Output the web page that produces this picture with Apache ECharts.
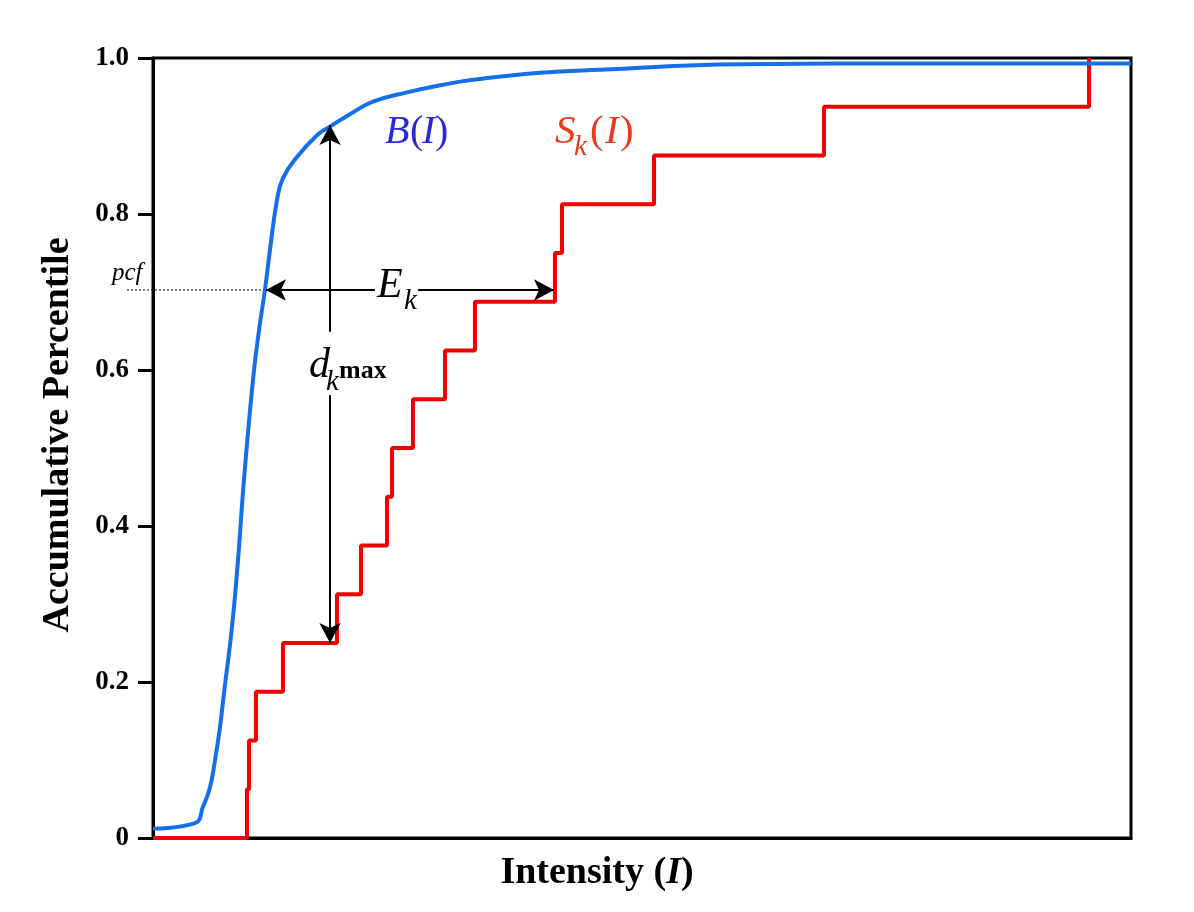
<!DOCTYPE html>
<html>
<head>
<meta charset="utf-8">
<script src="https://cdn.jsdelivr.net/npm/echarts@6/dist/echarts.min.js"></script>
<style>
  html, body { margin: 0; padding: 0; background: #fff; }
  #chart { width: 1194px; height: 912px; }
</style>
</head>
<body>
<div id="chart"></div>
<script>
// background distribution B(I) (intensity in arbitrary 0..1000 units)
const blueX = [0, 43, 51.1, 58.3, 63.4, 68.5, 72.6, 80.8, 86.9, 93.0, 102.2, 108.4, 114.5, 119.6, 126.8, 132.9, 147.2, 167.7, 181.0, 201.4, 224.9, 259.7, 293.5, 327.2, 395.7, 457, 600, 800, 1000]
const blueY = [0.012, 0.019, 0.040, 0.065, 0.100, 0.142, 0.186, 0.271, 0.356, 0.459, 0.587, 0.651, 0.703, 0.754, 0.818, 0.846, 0.873, 0.901, 0.912, 0.928, 0.944, 0.956, 0.965, 0.972, 0.981, 0.985, 0.992, 0.993, 0.993]
// sample distribution S_k(I): jump positions and the level after each jump
const stepX = [0, 96.1, 98.2, 105.3, 132.9, 188.1, 212.7, 239.3, 244.4, 265.8, 298.6, 329.2, 411.0, 418.2, 512.3, 686.1, 957.1]
const stepY = [0, 0.0625, 0.125, 0.1875, 0.25, 0.3125, 0.375, 0.4375, 0.5, 0.5625, 0.625, 0.6875, 0.75, 0.8125, 0.875, 0.9375, 1.0]

// annotation positions
const pcf = 0.7026
const dmaxX = 181
const ekLeft = 115.5
const ekRight = 410

const serif = '"Liberation Serif", "DejaVu Serif", serif'
const chart = echarts.init(document.getElementById('chart'))

const arrowSeg = (a, b) => [
    { coord: a, symbol: 'none' },
    { coord: b, symbol: 'arrow', symbolSize: [16, 20] }
]

const option = {
    animation: false,
    backgroundColor: '#fff',
    grid: {
        left: 153, right: 63, top: 58, bottom: 74,
        show: true,
        borderColor: '#000',
        borderWidth: 3
    },
    xAxis: {
        type: 'value',
        min: 0,
        max: 1000,
        name: '{b|Intensity (}{bi|I}{b|)}',
        nameLocation: 'middle',
        nameGap: 16,
        nameTextStyle: {
            padding: [0, 90, 0, 0],
            rich: {
                b: { fontFamily: serif, fontWeight: 'bold', fontSize: 38, color: '#000' },
                bi: { fontFamily: serif, fontWeight: 'bold', fontStyle: 'italic', fontSize: 38, color: '#000' }
            }
        },
        axisLine: { lineStyle: { color: '#000', width: 3 } },
        axisTick: { show: false },
        axisLabel: { show: false },
        splitLine: { show: false }
    },
    yAxis: {
        type: 'value',
        min: 0,
        max: 1,
        interval: 0.2,
        name: 'Accumulative Percentile',
        nameLocation: 'middle',
        nameGap: 76,
        nameTextStyle: {
            fontFamily: serif, fontWeight: 'bold', fontSize: 38, color: '#000',
            padding: [0, 0, 0, 26]
        },
        axisLine: { show: true, lineStyle: { color: '#000', width: 3 } },
        axisTick: { show: true, inside: false, length: 15, lineStyle: { color: '#000', width: 3 } },
        axisLabel: {
            margin: 24,
            fontFamily: serif,
            fontWeight: 'bold',
            fontSize: 27,
            color: '#000',
            formatter: v => v === 0 ? '0' : v.toFixed(1)
        },
        splitLine: { show: false }
    },
    series: [
        {
            name: 'S',
            type: 'line',
            step: 'end',
            showSymbol: false,
            z: 3,
            lineStyle: { color: '#f20000', width: 4 },
            data: stepX.map((x, i) => [x, stepY[i]])
        },
        {
            name: 'B',
            type: 'line',
            smooth: 0.45,
            showSymbol: false,
            z: 4,
            lineStyle: { color: '#1470ea', width: 4 },
            data: blueX.map((x, i) => [x, blueY[i]]),
            markLine: {
                silent: true,
                label: { show: false },
                lineStyle: { color: '#000', width: 2, type: 'solid' },
                data: [
                    arrowSeg([dmaxX, 0.649], [dmaxX, 0.914]),
                    arrowSeg([dmaxX, 0.568], [dmaxX, 0.25]),
                    arrowSeg([227, pcf], [ekLeft, pcf]),
                    arrowSeg([271, pcf], [ekRight, pcf])
                ]
            }
        }
    ]
}
chart.setOption(option)

// texts and the dotted pcf guide, placed in pixels from the data scale
const px = (x, y) => chart.convertToPixel({ gridIndex: 0 }, [x, y])
const pcfY = px(0, pcf)[1]
const blueAtPcf = px(ekLeft, pcf)[0]

const txt = (left, top, text, font, fill) => ({
    type: 'text', left, top,
    style: { text, font: font + ' ' + serif, fill }
})

chart.setOption({
    graphic: [
        {
            type: 'line',
            shape: { x1: 127, y1: pcfY, x2: blueAtPcf, y2: pcfY },
            style: { stroke: '#000', lineWidth: 1, lineDash: [2, 2] }
        },
        txt(112, pcfY - 29, 'pcf', 'italic 25px', '#000'),
        // B(I)
        txt(385, 112, 'B', 'italic 40px', '#2727dc'),
        txt(410, 112, '(', '40px', '#2727dc'),
        txt(422, 112, 'I', 'italic 40px', '#2727dc'),
        txt(435, 112, ')', '40px', '#2727dc'),
        // S_k(I)
        txt(555, 112, 'S', 'italic 41px', '#ea3a1c'),
        txt(574, 133, 'k', 'italic 29px', '#ea3a1c'),
        txt(590, 112, '(', '41px', '#ea3a1c'),
        txt(605, 112, 'I', 'italic 41px', '#ea3a1c'),
        txt(620, 112, ')', '41px', '#ea3a1c'),
        // E_k
        txt(377, pcfY - 25, 'E', 'italic 42px', '#000'),
        txt(404, pcfY - 3, 'k', 'italic 29px', '#000'),
        // d_k max
        txt(309, 345, 'd', 'italic 42px', '#000'),
        txt(326, 368, 'k', 'italic 29px', '#000'),
        txt(339, 358, 'max', 'bold 26px', '#000')
    ]
})
</script>
</body>
</html>
